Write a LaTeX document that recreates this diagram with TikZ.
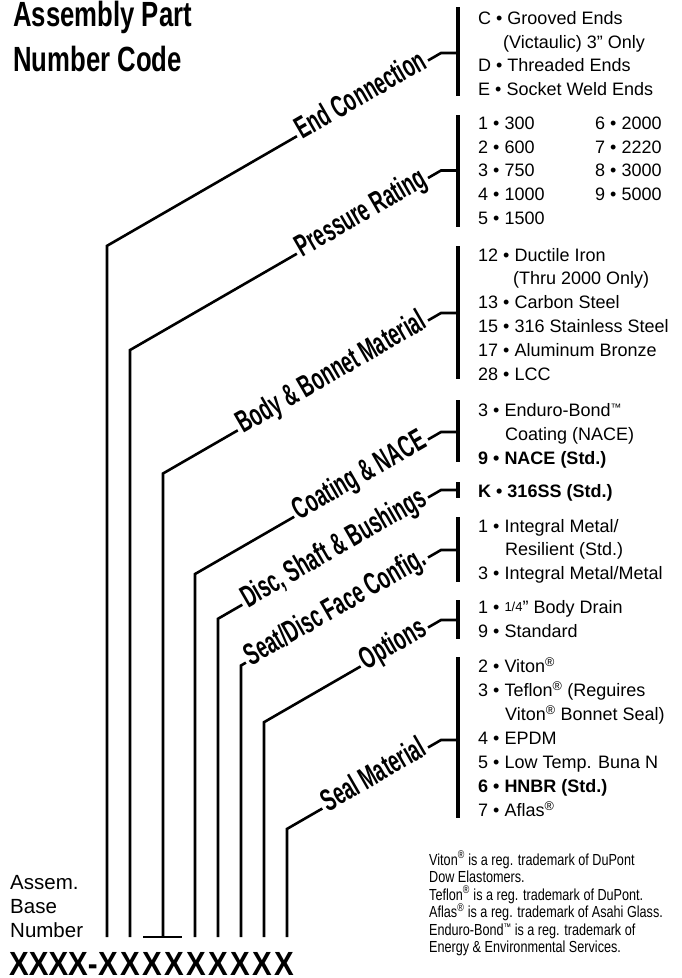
\documentclass[tikz,border=0pt]{standalone}
\usepackage{fontspec}
\setmainfont{Liberation Sans}
\newfontfamily\labelfont[FakeStretch=0.61]{Liberation Sans}
\newfontfamily\titlefont[FakeStretch=0.735]{Liberation Sans}
\newfontfamily\codefont[FakeStretch=0.88]{Liberation Sans}
\newfontfamily\notefont[FakeStretch=0.79]{Liberation Sans}
\usetikzlibrary{calc}
\newcommand\rsup{\textsuperscript{®}}
\newcommand\tmark{\raisebox{0.28em}{\scalebox{0.6}{™}}}
\newcommand\drawbranch[4]{%
  \pgfmathsetmacro\yc{#2+(441-#1)*tan(30)}%
  \coordinate (#3-bot) at (#1,937);
  \coordinate (#3-cor) at (#1,\yc);
  \coordinate (#3-knee) at (441,#2);
  \coordinate (#3-tick) at (458,#2);
  \node[lbl] (#3) at ($(#3-knee)+(-12.99,7.5)$) {#4};
  \draw[conn] (#3-bot) -- (#3-cor) -- (#3.west);
  \draw[conn] (#3.east) -- (#3-knee) -- (#3-tick);
}
\newcommand\optline[5][optx]{\node[#1] (#2) at (#3,#4) {#5};}
\begin{document}
\begin{tikzpicture}[x=1pt,y=-1pt,
  conn/.style={line width=2.6pt, line join=miter},
  brk/.style={line width=3.2pt},
  lbl/.style={rotate=30, anchor=east, inner xsep=3pt, inner ysep=0pt, text height=12pt, text depth=0pt, font=\labelfont\bfseries\fontsize{31}{31}\selectfont},
  optx/.style={anchor=base west, inner sep=0pt, font=\fontsize{18}{18}\selectfont},
  optb/.style={anchor=base west, inner sep=0pt, font=\fontsize{18}{18}\selectfont\bfseries},
  notetxt/.style={anchor=base west, inner sep=0pt, font=\notefont\fontsize{16}{16}\selectfont},
  basetxt/.style={anchor=base west, inner sep=0pt, font=\fontsize{20.5}{20.5}\selectfont},
  codetxt/.style={anchor=base, inner sep=0pt, font=\codefont\bfseries\fontsize{33.5}{33.5}\selectfont},
  ttl/.style={anchor=base west, inner sep=0pt, font=\titlefont\bfseries\fontsize{35}{35}\selectfont}]
\useasboundingbox (0,0) rectangle (681,978);

% title
\node[ttl] (t1) at (13,26.5) {Assembly Part};
\node[ttl] (t2) at (13,71) {Number Code};

% branches
\drawbranch{107}{53}{ec}{End Connection}
\drawbranch{130}{170.5}{pr}{Pressure Rating}
\drawbranch{163}{313}{bb}{Body \& Bonnet Material}
\drawbranch{195}{432}{cn}{Coating \& NACE}
\drawbranch{218}{490}{ds}{Disc, Shaft \& Bushings}
\drawbranch{241}{550}{sd}{Seat/Disc Face Config.}
\drawbranch{264}{620}{op}{Options}
\drawbranch{287}{740}{sm}{Seal Material}
\draw[conn] (143,937) -- (182,937);

% brackets
\draw[brk] (458,7) -- (458,96);
\draw[brk] (458,115) -- (458,227);
\draw[brk] (458,246) -- (458,379);
\draw[brk] (458,400) -- (458,462);
\draw[brk] (458,482) -- (458,498);
\draw[brk] (458,517) -- (458,582);
\draw[brk] (458,600) -- (458,639);
\draw[brk] (458,657) -- (458,818);

% options: end connection
\optline{a1}{478}{24.5}{C • Grooved Ends}
\optline{a2}{503}{48}{(Victaulic) 3" Only}
\optline{a3}{478}{71.7}{D • Threaded Ends}
\optline{a4}{478}{95.3}{E • Socket Weld Ends}
% pressure rating
\optline{b1}{478}{129.5}{1 • 300}
\optline{b2}{478}{153.2}{2 • 600}
\optline{b3}{478}{176.9}{3 • 750}
\optline{b4}{478}{200.6}{4 • 1000}
\optline{b5}{478}{224.3}{5 • 1500}
\optline{b6}{595}{129.5}{6 • 2000}
\optline{b7}{595}{153.2}{7 • 2220}
\optline{b8}{595}{176.9}{8 • 3000}
\optline{b9}{595}{200.6}{9 • 5000}
% body & bonnet
\optline{c1}{478}{261}{12 • Ductile Iron}
\optline{c2}{513}{284.8}{(Thru 2000 Only)}
\optline{c3}{478}{308.6}{13 • Carbon Steel}
\optline{c4}{478}{332.4}{15 • 316 Stainless Steel}
\optline{c5}{478}{356.2}{17 • Aluminum Bronze}
\optline{c6}{478}{380}{28 • LCC}
% coating
\optline{d1}{478}{416.5}{3 • Enduro-Bond\tmark}
\optline{d2}{505}{440.3}{Coating (NACE)}
\optline[optb]{d3}{478}{464}{9 • NACE (Std.)}
% disc shaft
\optline[optb]{e1}{478}{497.5}{K • 316SS (Std.)}
% seat
\optline{f1}{478}{532}{1 • Integral Metal/}
\optline{f2}{505}{555.8}{Resilient (Std.)}
\optline{f3}{478}{579.5}{3 • Integral Metal/Metal}
% options
\optline{g1}{478}{613}{1 • \raisebox{2pt}{\fontsize{13}{13}\selectfont 1/4}" Body Drain}
\optline{g2}{478}{637}{9 • Standard}
% seal
\optline{h1}{478}{672.5}{2 • Viton\rsup}
\optline{h2}{478}{696.5}{3 • Teflon\rsup{} (Reguires}
\optline{h3}{505}{720.5}{Viton\rsup{} Bonnet Seal)}
\optline{h4}{478}{744.5}{4 • EPDM}
\optline{h5}{478}{768.5}{5 • Low Temp. Buna N}
\optline[optb]{h6}{478}{792.5}{6 • HNBR (Std.)}
\optline{h7}{478}{816.5}{7 • Aflas\rsup}

% footnotes
\node[notetxt] (n1) at (429,865) {Viton\rsup{} is a reg. trademark of DuPont};
\node[notetxt] (n2) at (429,882.5) {Dow Elastomers.};
\node[notetxt] (n3) at (429,900) {Teflon\rsup{} is a reg. trademark of DuPont.};
\node[notetxt] (n4) at (429,917.5) {Aflas\rsup{} is a reg. trademark of Asahi Glass.};
\node[notetxt] (n5) at (429,935) {Enduro-Bond\tmark{} is a reg. trademark of};
\node[notetxt] (n6) at (429,952.5) {Energy \& Environmental Services.};

% base number
\node[basetxt] (s1) at (10,889) {Assem.};
\node[basetxt] (s2) at (10,913) {Base};
\node[basetxt] (s3) at (10,937) {Number};

% code
\node[codetxt, anchor=base west] (c0) at (9,975) {XXXX-};
\foreach \i/\cx in {1/108,2/130,3/152,4/174,5/196,6/218,7/240,8/262,9/284}
  \node[codetxt] (x\i) at (\cx,975) {X};
\end{tikzpicture}
\end{document}
